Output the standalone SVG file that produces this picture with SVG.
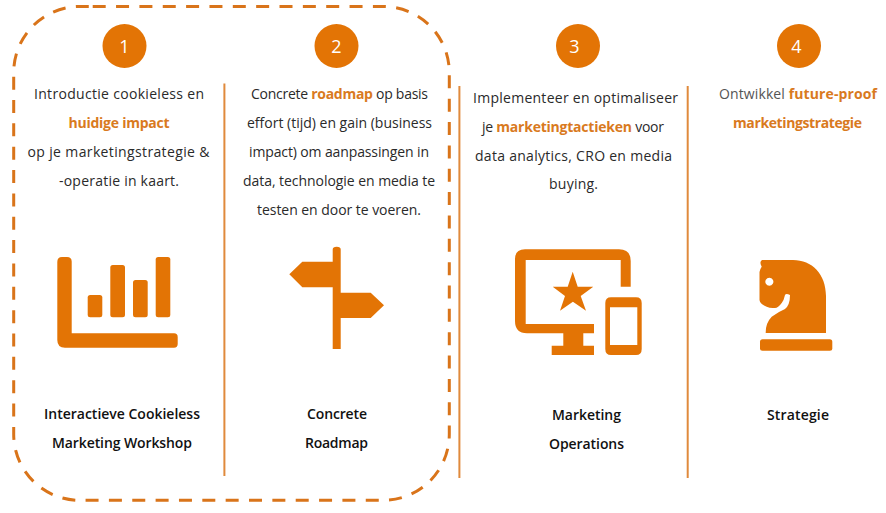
<svg xmlns="http://www.w3.org/2000/svg" width="886" height="513" viewBox="0 0 886 513">
<style>
text{font-family:"Open Sans","Noto Sans","Liberation Sans",sans-serif;text-anchor:middle}
.b{font-size:14px;fill:#2a2a2a}
.h{font-weight:700;fill:#d97a1e}
.t{font-size:14px;font-weight:600;fill:#111}
.n{font-size:18px;fill:#fff}
.c{fill:#e37405}
.i{fill:#e37405}
.s{fill:none;stroke:#e08a3c;stroke-width:2}
</style>
<rect width="886" height="513" fill="#fff"/>
<g id="connectors">
<path d="M92.700 6.500H383.300A66 66 0 0 1 449.300 72.500V434.300A66 66 0 0 1 383.300 500.300H79.700A66 66 0 0 1 13.700 434.300V72.500A66 66 0 0 1 79.700 6.500Z" fill="none" stroke="#d9741a" stroke-width="3" stroke-dasharray="13 10.350"/>
<path class="s" d="M224.400 83.500V476M459.400 86V478M687.700 86V478"/>
</g>
<g id="node1">
<circle class="c" cx="124.500" cy="46" r="22"/>
<text class="n" x="124.500" y="52.500">1</text>
<text class="b" x="119" y="99.300" textLength="170">Introductie cookieless en</text>
<text class="b h" x="119" y="128.300" textLength="101">huidige impact</text>
<text class="b" x="118.500" y="157.300" textLength="182">op je marketingstrategie &amp;</text>
<text class="b" x="119" y="186.300" textLength="120">-operatie in kaart.</text>
<path class="i" d="M62 257H67Q71.700 257 71.700 261.500V333.300H174Q177.700 333.300 177.700 337V344Q177.700 347.700 174 347.700H65Q57.300 347.700 57.300 340V262Q57.300 257 62 257Z"/>
<rect class="i" x="87.700" y="295" width="14.600" height="22.300" rx="2.500"/>
<rect class="i" x="110.300" y="265" width="14.700" height="52.300" rx="2.500"/>
<rect class="i" x="133" y="280" width="14.700" height="37.300" rx="2.500"/>
<rect class="i" x="155.700" y="257" width="14.600" height="60.300" rx="2.500"/>
<text class="t" x="122" y="419.300" textLength="156">Interactieve Cookieless</text>
<text class="t" x="122" y="448.300" textLength="140">Marketing Workshop</text>
</g>
<g id="node2">
<circle class="c" cx="336.500" cy="46" r="22"/>
<text class="n" x="336.500" y="52.500">2</text>
<text class="b" x="339.500" y="99.300" textLength="177">Concrete <tspan class="h">roadmap</tspan> op basis</text>
<text class="b" x="339.500" y="128.300" textLength="185">effort (tijd) en gain (business</text>
<text class="b" x="339" y="157.300" textLength="180">impact) om aanpassingen in</text>
<text class="b" x="339" y="186.300" textLength="192">data, technologie en media te</text>
<text class="b" x="339" y="215.300" textLength="164">testen en door te voeren.</text>
<path class="i" d="M332.700 249.500Q332.700 246.700 336.700 246.700Q340.700 246.700 340.700 249.500V292.700H370.700L384 305.300L370.700 318H340.700V349H332.700V287.300H302.300L289.300 274.300L302.300 261.700H332.700Z"/>
<text class="t" x="337" y="419.300" textLength="60">Concrete</text>
<text class="t" x="336.500" y="448.300" textLength="63">Roadmap</text>
</g>
<g id="node3">
<circle class="c" cx="578" cy="46" r="22"/>
<text class="n" x="574.500" y="52.500">3</text>
<text class="b" x="575.500" y="102.700" textLength="205">Implementeer en optimaliseer</text>
<text class="b" x="573" y="131.700" textLength="182">je <tspan class="h">marketingtactieken</tspan> voor</text>
<text class="b" x="573.500" y="160.500" textLength="197">data analytics, CRO en media</text>
<text class="b" x="573.500" y="189.300" textLength="49">buying.</text>
<path class="i" d="M525 249.300H619Q630.700 249.300 630.700 261V286.700H620.700V260H525.700V324H594V333.300H583.300V345.700H594V355H551.700V345.700H563.300V333.300H527Q515 333.300 515 321V259Q515 249.300 525 249.300Z"/>
<path class="i" d="M572.700 271.700L577.700 286.700H593.300L580.700 296L586 310.700L572.900 301.700L560 310.700L565 296L552.700 286.700H567.700Z"/>
<path class="i" fill-rule="evenodd" d="M611 297.300H636Q641.700 297.300 641.700 303V349Q641.700 355 636 355H611Q605.300 355 605.300 349V303Q605.300 297.300 611 297.300ZM610 307.300V345H637.300V307.300Z"/>
<text class="t" x="586.500" y="420" textLength="69">Marketing</text>
<text class="t" x="586.500" y="449" textLength="75">Operations</text>
</g>
<g id="node4">
<circle class="c" cx="799" cy="46" r="22"/>
<text class="n" x="796.500" y="52.500">4</text>
<text class="b" x="798" y="98.800" textLength="158" style="fill:#555">Ontwikkel <tspan class="h">future-proof</tspan></text>
<text class="b h" x="797.500" y="127.800" textLength="129">marketingstrategie</text>
<path class="i" fill-rule="evenodd" d="M762 260H793C812 260 826 274 826 296V333H765.700Q765.500 323 771.700 316.700Q778 312 785 309Q790 305 790 295Q786 293 785 295Q784 300 781.700 303Q778 308 775 308Q770 308.500 766.700 306.700Q760 304 759.500 300V272Q760 269 761.700 266.700Q759 262 762 260ZM769.300 277.700A4 4 0 1 0 769.400 277.700Z"/>
<rect class="i" x="760" y="339.300" width="72.300" height="11.400" rx="2.500"/>
<text class="t" x="798" y="420" textLength="62">Strategie</text>
</g>
</svg>
